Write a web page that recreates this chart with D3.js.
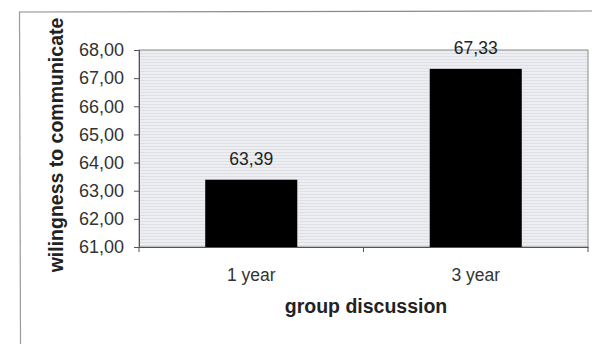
<!DOCTYPE html>
<html><head><meta charset="utf-8">
<script src="https://cdn.jsdelivr.net/npm/d3@7/dist/d3.min.js"></script>
<style>body{margin:0;background:#fff;}svg{display:block;}</style>
</head><body>
<script>
const categories = ["1 year", "3 year"];
const values = [63.39, 67.33];
const valueLabels = ["63,39", "67,33"];
const yTicks = [61, 62, 63, 64, 65, 66, 67, 68];
const yTitle = "wilingness to communicate";
const xTitle = "group discussion";

const W = 592, H = 344;
const m = {left: 139, top: 50, right: 4, bottom: 97};
const FONT = "Liberation Sans, Arial, sans-serif";
const svg = d3.select("body").append("svg").attr("width", W).attr("height", H);

const defs = svg.append("defs");
const pat = defs.append("pattern").attr("id", "stripes").attr("patternUnits", "userSpaceOnUse")
  .attr("width", 6).attr("height", 3);
pat.append("rect").attr("width", 6).attr("height", 3).attr("fill", "#eceef2");
pat.append("rect").attr("y", 2).attr("width", 6).attr("height", 1).attr("fill", "#dee0e5");

// outer chart border
svg.append("line").attr("x1", 19).attr("x2", W).attr("y1", 12).attr("y2", 11).attr("stroke", "#8a8a8a").attr("stroke-width", 1.2);
svg.append("line").attr("x1", 19.5).attr("x2", 20.5).attr("y1", 12).attr("y2", H).attr("stroke", "#9a9a9a").attr("stroke-width", 1.2);

const x = d3.scaleBand().domain(categories).range([m.left, W - m.right]).paddingInner(0.59).paddingOuter(0.295);
const xb = d3.scaleBand().domain(categories).range([m.left, W - m.right]);
const y = d3.scaleLinear().domain([61, 68]).range([H - m.bottom, m.top]);

svg.append("rect").attr("x", m.left).attr("y", m.top).attr("width", W - m.right - m.left).attr("height", H - m.bottom - m.top)
  .attr("fill", "url(#stripes)").attr("stroke", "#8c8c8c").attr("stroke-width", 1);

svg.selectAll("rect.bar").data(values).join("rect").attr("class", "bar")
  .attr("x", (d, i) => x(categories[i])).attr("width", x.bandwidth())
  .attr("y", d => y(d)).attr("height", d => y(61) - y(d)).attr("fill", "#000");

svg.selectAll("text.vl").data(values).join("text").attr("class", "vl")
  .attr("x", (d, i) => x(categories[i]) + x.bandwidth() / 2).attr("y", d => y(d) - 15)
  .attr("text-anchor", "middle").attr("font-family", FONT).attr("font-size", 17.5)
  .attr("fill", "#222").text((d, i) => valueLabels[i]);

const yAxis = svg.append("g").attr("transform", `translate(${m.left},0)`)
  .call(d3.axisLeft(y).tickValues(yTicks).tickSize(5).tickPadding(10).tickFormat(d => d3.format(".2f")(d).replace(".", ",")));
yAxis.select(".domain").attr("stroke", "#555");
yAxis.selectAll(".tick line").attr("stroke", "#555");
yAxis.selectAll("text").attr("font-family", FONT).attr("font-size", 18).attr("fill", "#333");

const xAxis = svg.append("g").attr("transform", `translate(0,${H - m.bottom})`)
  .call(d3.axisBottom(xb).tickSize(0).tickPadding(22));
xAxis.select(".domain").attr("stroke", "#555");
xAxis.selectAll("text").attr("font-family", FONT).attr("font-size", 17.5).attr("fill", "#333");
// category boundary ticks
svg.selectAll("line.ct").data([m.left, xb(categories[1]), W - m.right]).join("line").attr("class", "ct")
  .attr("x1", d => d).attr("x2", d => d).attr("y1", H - m.bottom).attr("y2", H - m.bottom + 5).attr("stroke", "#555");

svg.append("text").attr("transform", `translate(63,145) rotate(-90)`)
  .attr("text-anchor", "middle").attr("font-family", FONT).attr("font-size", 19.5)
  .attr("font-weight", "bold").attr("fill", "#222").text(yTitle);

svg.append("text").attr("x", 366).attr("y", 313)
  .attr("text-anchor", "middle").attr("font-family", FONT).attr("font-size", 19.5)
  .attr("font-weight", "bold").attr("fill", "#222").text(xTitle);
</script>
</body></html>
